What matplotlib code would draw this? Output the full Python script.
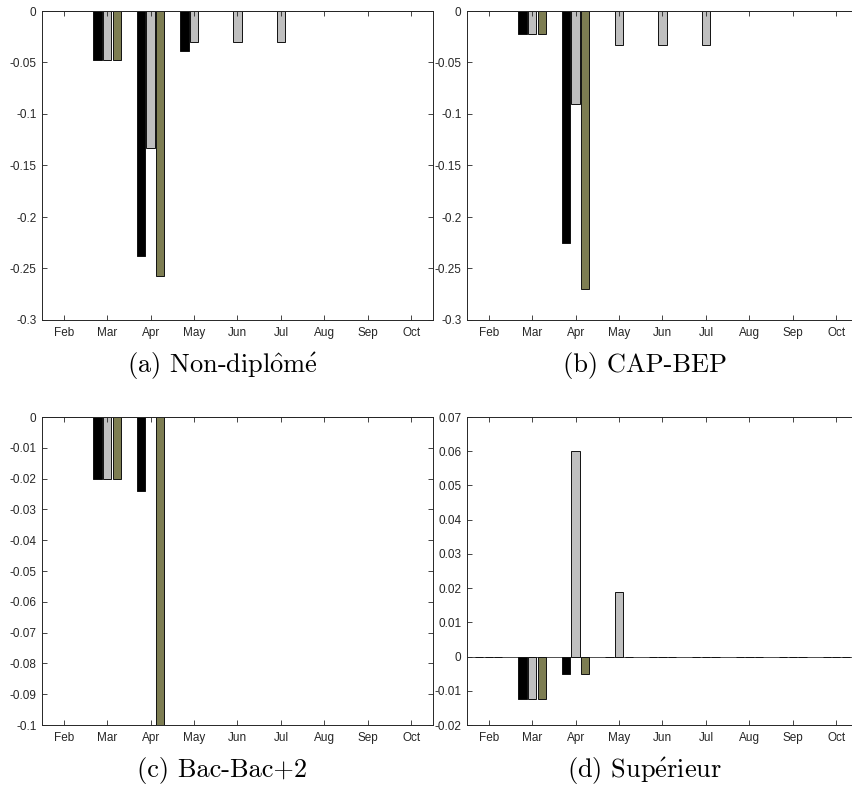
import numpy as np
import matplotlib
matplotlib.use("Agg")
import matplotlib.pyplot as plt
from matplotlib.ticker import FuncFormatter

plt.rcParams['font.family'] = ['Liberation Sans', 'DejaVu Sans']
plt.rcParams['axes.unicode_minus'] = False
plt.rcParams['mathtext.fontset'] = 'cm'

# =============================================================================
# data
# =============================================================================
months = ["Feb", "Mar", "Apr", "May", "Jun", "Jul", "Aug", "Sep", "Oct"]

# (a) Non-diplômé
a_black = [0, -0.048, -0.238, -0.0385, 0, 0, 0, 0, 0]
a_gray = [0, -0.048, -0.133, -0.030, -0.030, -0.030, 0, 0, 0]
a_olive = [0, -0.048, -0.257, 0, 0, 0, 0, 0, 0]

# (b) CAP-BEP
b_black = [0, -0.0225, -0.225, 0, 0, 0, 0, 0, 0]
b_gray = [0, -0.0225, -0.090, -0.0333, -0.033, -0.0327, 0, 0, 0]
b_olive = [0, -0.0225, -0.270, 0, 0, 0, 0, 0, 0]

# (c) Bac-Bac+2
c_black = [0, -0.020, -0.024, 0, 0, 0, 0, 0, 0]
c_gray = [0, -0.020, 0, 0, 0, 0, 0, 0, 0]
c_olive = [0, -0.020, -0.12, 0, 0, 0, 0, 0, 0]

# (d) Supérieur
d_black = [0, -0.0125, -0.005, 0, 0, 0, 0, 0, 0]
d_gray = [0, -0.0125, 0.060, 0.019, 0, 0, 0, 0, 0]
d_olive = [0, -0.0125, -0.005, 0, 0, 0, 0, 0, 0]

# accents drawn with mathtext so they stay in Computer Modern
captions = [r"(a) Non-dipl$\mathrm{\hat{o}}$m$\mathrm{\acute{e}}$",
            "(b) CAP-BEP",
            "(c) Bac-Bac+2",
            r"(d) Sup$\mathrm{\acute{e}}$rieur"]
ylims = [(-0.3, 0), (-0.3, 0), (-0.1, 0), (-0.02, 0.07)]
ysteps = [0.05, 0.05, 0.01, 0.01]

panels = [(a_black, a_gray, a_olive),
          (b_black, b_gray, b_olive),
          (c_black, c_gray, c_olive),
          (d_black, d_gray, d_olive)]

colors = ["#000000", "#bfbfbf", "#7d7d52"]

# =============================================================================
# figure
# =============================================================================
W, H = 853, 787
fig = plt.figure(figsize=(W / 100, H / 100), dpi=100)

# axes boxes in pixels: left, top, right, bottom
boxes = [(42, 11, 433, 320), (467, 11, 858, 320),
         (42, 417, 433, 725), (467, 417, 858, 725)]
cap_pos = [(222, 366), (645, 366), (222, 771), (645, 771)]

x = np.arange(1, len(months) + 1)
off = 0.222
bw = 0.19
axc = "#262626"

for k in range(4):
    l, t, r, b = boxes[k]
    ax = fig.add_axes([l / W, 1 - b / H, (r - l) / W, (b - t) / H])
    ser = panels[k]
    ax.axhline(0, color="#333333", lw=0.6, zorder=0.5)
    for j in range(3):
        ax.bar(x + (j - 1) * off, ser[j], width=bw, color=colors[j],
               edgecolor="#111111", linewidth=0.7, zorder=1)
    lo, hi = ylims[k]
    ax.set_xlim(0.5, 9.5)
    ax.set_ylim(lo, hi)
    ax.set_xticks(x)
    ax.set_xticklabels(months)
    ticks = np.round(np.arange(lo, hi + ysteps[k] / 2, ysteps[k]), 3)
    ax.set_yticks(ticks)
    ax.yaxis.set_major_formatter(FuncFormatter(lambda v, p: "%g" % (0 if abs(v) < 1e-9 else v)))
    ax.tick_params(direction="in", top=True, right=True, length=3.5, width=0.6,
                   labelsize=8.5, colors=axc, pad=4)
    ax.tick_params(axis="x", pad=5)
    for s in ax.spines.values():
        s.set_color(axc)
        s.set_linewidth(0.7)
    fig.text(cap_pos[k][0] / W, 1 - cap_pos[k][1] / H, captions[k],
             family=["cmr10", "DejaVu Serif"], fontsize=19,
             ha="center", va="center")

fig.savefig("out.png", dpi=100)
